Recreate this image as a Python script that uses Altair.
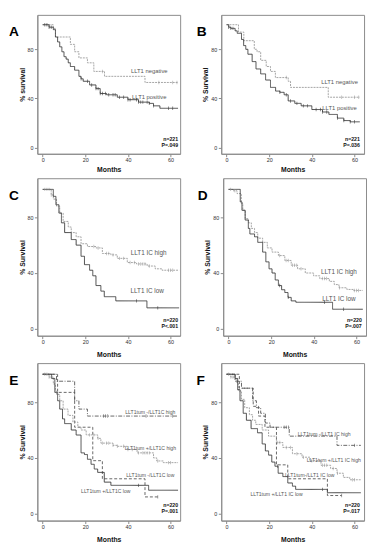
import altair as alt
import pandas as pd

# ---------------- data ----------------
# Panel A
A_neg_t = [0, 5, 6, 13, 15, 17, 21, 24, 29, 48]
A_neg_s = [100, 97, 90, 84, 78, 73, 69, 62, 58, 53]
A_neg_c = [28, 54.5, 61, 63]
A_pos_t = [0, 3, 5, 6, 7, 8, 9, 10, 11, 12, 13, 15, 17, 18, 19, 22, 25, 27, 30, 35, 40, 45, 50, 52, 55]
A_pos_s = [100, 98, 96, 90, 86, 82, 78, 74, 72, 69, 66, 63, 58, 56, 54, 51, 48, 44, 43, 41, 39, 37, 36, 34, 32]
A_pos_c = [1, 2, 3, 4, 18, 21, 23, 25, 26, 27, 28, 29.5, 31, 33, 34, 36, 38, 40, 41, 44, 45, 46, 47, 49, 50, 52, 59, 61]

# Panel B
B_neg_t = [0, 5.6, 8.1, 13, 14.3, 16, 18.6, 20.6, 22.9, 28.9, 30, 47.7]
B_neg_s = [100, 94, 87, 80, 78, 71, 66, 62, 57, 54, 49, 41]
B_neg_c = [28, 54, 60, 62]
B_pos_t = [0, 1, 2, 4, 5, 7, 8, 9, 10, 12, 13.8, 16, 18.3, 20.6, 23, 25, 27, 28.9, 32, 35, 40, 45, 48, 52, 55, 58]
B_pos_s = [100, 98, 97, 95, 93, 88, 83, 80, 76, 70, 64, 60, 55, 49, 46, 45, 43, 38, 36, 34, 31, 29, 27, 24, 22, 21]
B_pos_c = [1, 2, 3, 25, 28, 30, 33, 36, 38, 42, 44, 45, 47, 52, 55, 58, 60]

# Panel C
C_high_t = [0, 4, 5, 6.5, 8, 9.6, 12, 13.4, 15.7, 18, 21, 25, 28, 32, 35, 39.7, 44, 49, 52.8, 56]
C_high_s = [100, 96, 93, 88, 83, 77, 73, 69, 66, 61, 59, 58, 54, 53, 50.5, 47.5, 46.5, 45, 43, 42]
C_high_c = [1, 2, 3, 4, 24, 26, 30, 31, 33, 36, 38, 41, 43, 45, 46, 47, 48, 50, 59, 60, 61]
C_low_t = [0, 5, 6.2, 7.6, 8.8, 10.3, 13.4, 15.7, 18, 19.6, 22, 23.5, 25, 27.3, 28.9, 34.3, 48.9]
C_low_s = [100, 95, 89, 83, 76, 69, 64, 60, 52, 46, 42, 38, 31, 27, 23, 20, 15]
C_low_c = [44, 54]

# Panel D
D_high_t = [0, 2, 4, 6, 6.7, 7.8, 9.3, 10.7, 12.2, 13.7, 16, 18.2, 20.4, 23.4, 26.4, 29.4, 32.4, 36, 39.9, 42.8, 47.3, 49.6, 51.8, 55.5, 58.5]
D_high_s = [100, 99, 97, 90, 85, 79, 76, 72, 69, 65, 62, 58, 55, 52.5, 49, 45.6, 43, 40, 38, 36, 34, 31.7, 29.4, 28.2, 27.5]
D_high_c = [1, 3, 24, 27, 28, 30, 31, 32, 34, 44, 45, 46, 52, 59, 60, 61]
D_low_t = [0, 5.5, 6.3, 7.8, 9.3, 10, 12.2, 13.7, 16, 17.5, 19, 20.4, 21.9, 23.4, 24.9, 26.4, 27.9, 29.4, 31.6, 48.8]
D_low_s = [100, 91, 85, 78, 72, 68, 66, 62, 55, 48, 43, 40, 35, 31, 28, 26, 22.5, 20, 19, 14]
D_low_c = [24, 28, 45, 54]

# Panel E
E_mh_t = [0, 6.5, 15, 17, 21]
E_mh_s = [100, 95, 81, 75, 70]
E_mh_c = [28.5, 29.5, 30.5, 48.5, 61]
E_ml_t = [0, 7, 15, 23.5, 28, 48]
E_ml_s = [100, 87, 62, 38, 25, 12]
E_ml_c = [54]
E_ph_t = [0, 3, 5, 6, 6.5, 8, 9.6, 11.9, 14.2, 16.5, 18, 20.4, 25.8, 27.3, 33, 35, 39.7, 44.3, 52, 53.5, 56.6]
E_ph_s = [100, 98, 93, 88, 85.5, 81, 75, 70.5, 65.7, 62, 60, 56.5, 54, 50.6, 49, 48.3, 46, 43.6, 40, 37.8, 36.6]
E_ph_c = [1, 2, 3, 4, 22, 24, 26, 28, 30, 31, 33, 35, 38, 40, 42, 45, 47, 48, 49, 50, 54, 59, 60]
E_pl_t = [0, 4.2, 5.7, 7, 8, 9.3, 10.3, 13.4, 15.7, 18, 19.6, 21, 22.7, 24.2, 25.8, 28.9, 32, 49.7]
E_pl_s = [100, 97, 87, 81, 75, 68, 64.6, 60, 56.4, 43.6, 42.4, 39, 35.4, 32, 29.6, 22.6, 20.3, 16.8]
E_pl_c = [45]

# Panel F
F_mh_t = [0, 4, 7, 12.2, 14, 16, 18.2, 20.4, 29.4, 51.8]
F_mh_s = [100, 95, 90, 81, 76, 72, 65, 62, 55.6, 49]
F_mh_c = [27, 28, 29, 60]
F_ml_t = [0, 6, 12.5, 15, 18, 23.4, 28.7, 47.3]
F_ml_s = [100, 90, 77, 70, 62, 35, 25, 13]
F_ml_c = [54]
F_ph_t = [0, 2, 4, 4.8, 5.5, 7, 8.5, 10.7, 12.2, 13.7, 16.7, 19.7, 23.4, 26.4, 30.9, 35.4, 39.1, 44.3, 48.8, 51.8, 54.8, 57.8]
F_ph_s = [100, 98, 96, 94, 88, 82, 76, 71, 67, 64, 60, 55.6, 51, 47.5, 43, 40.5, 38, 34.7, 32.4, 29, 26, 24.3]
F_ph_c = [1, 2, 3, 24, 25, 28, 30, 33, 36, 40, 45, 46, 47, 50, 52, 59, 60]
F_pl_t = [0, 4, 5.2, 6.3, 7.8, 9.3, 11.5, 14.5, 16.7, 18.2, 19.7, 21.2, 22.7, 24.2, 26.4, 28.7, 30.9, 32.4, 47.3]
F_pl_s = [100, 97, 89, 81, 72, 67, 61, 58, 50, 45, 42, 37, 34, 29, 26.6, 22, 19.7, 17.4, 15]
F_pl_c = [24, 45]

x_ticks = [0, 10, 20, 30, 40, 50, 60]
y_ticks = [0, 20, 40, 60, 80, 100]

STYLE_DOMAIN = ["dark", "light", "dashdot", "dashed"]
STYLE_COLORS = ["#333333", "#9a9a9a", "#555555", "#555555"]
STYLE_DASH = [[1, 0], [2, 1], [4, 1.5, 1, 1.5], [3, 2]]

FONT = "Liberation Sans"
W = 146


def make_panel(letter, letter_dx, curves, labels, label_size, np_lines, ytitle, height, ttl_pad):
    line_rows, cens_rows = [], []
    for name, style, t, s, end, cens in curves:
        for ti, si in zip(t, s):
            line_rows.append(dict(curve=name, style=style, t=ti, s=si))
        line_rows.append(dict(curve=name, style=style, t=end, s=s[-1]))
        for c in cens:
            idx = max(i for i, ti in enumerate(t) if ti <= c)
            cens_rows.append(dict(curve=name, style=style, t=c, s=s[idx]))
    ldf = pd.DataFrame(line_rows)
    cdf = pd.DataFrame(cens_rows)
    tdf = pd.DataFrame(labels, columns=["label", "t", "s"])
    ndf = pd.DataFrame(np_lines, columns=["label", "t", "s"])

    xs = alt.Scale(domain=[-2.5, 64.5], nice=False, zero=False)
    ys = alt.Scale(domain=[-5, 108], nice=False, zero=False)
    xax = alt.Axis(values=x_ticks, title="Months", titlePadding=ttl_pad)
    yax = alt.Axis(values=y_ticks, title=ytitle)
    cscale = alt.Scale(domain=STYLE_DOMAIN, range=STYLE_COLORS)
    dscale = alt.Scale(domain=STYLE_DOMAIN, range=STYLE_DASH)

    lines = alt.Chart(ldf).mark_line(interpolate="step-after", strokeWidth=0.9).encode(
        x=alt.X("t:Q", scale=xs, axis=xax),
        y=alt.Y("s:Q", scale=ys, axis=yax),
        color=alt.Color("style:N", scale=cscale, legend=None),
        strokeDash=alt.StrokeDash("style:N", scale=dscale, legend=None),
        detail="curve:N",
    )
    ticks = alt.Chart(cdf).mark_tick(orient="vertical", size=3.5, thickness=0.8).encode(
        x=alt.X("t:Q", scale=xs),
        y=alt.Y("s:Q", scale=ys),
        color=alt.Color("style:N", scale=cscale, legend=None),
    )
    texts = alt.Chart(tdf).mark_text(fontSize=label_size, color="#555555", font=FONT).encode(
        x=alt.X("t:Q", scale=xs), y=alt.Y("s:Q", scale=ys), text="label:N"
    )
    np_txt = alt.Chart(ndf).mark_text(fontSize=5.3, fontWeight="bold", color="#111111",
                                      align="right", font=FONT).encode(
        x=alt.X("t:Q", scale=xs), y=alt.Y("s:Q", scale=ys), text="label:N"
    )
    let = alt.Chart(pd.DataFrame({"letter": [letter]})).mark_text(
        fontSize=14, fontWeight="bold", color="#000000", font=FONT
    ).encode(x=alt.value(letter_dx), y=alt.value(18), text="letter:N")

    return alt.layer(lines, ticks, texts, np_txt, let).properties(width=W, height=height)


H1, H2 = 142, 161

pA = make_panel("A", -24, [
    ("neg", "light", A_neg_t, A_neg_s, 63.5, A_neg_c),
    ("pos", "dark", A_pos_t, A_pos_s, 63.5, A_pos_c),
], [("LLT1 negative", 50, 62), ("LLT1 positive", 50, 41)], 6,
    [("n=221", 63.5, 7), ("P=.049", 63.5, 2)], "% survival", H1, 3)

pB = make_panel("B", -20, [
    ("neg", "light", B_neg_t, B_neg_s, 62.5, B_neg_c),
    ("pos", "dark", B_pos_t, B_pos_s, 62.5, B_pos_c),
], [("LLT1 negative", 53, 53), ("LLT1 positive", 53, 32)], 6,
    [("n=221", 62.5, 7), ("P=.036", 62.5, 2)], "% Survival", H1, 3)

pC = make_panel("C", -24, [
    ("high", "light", C_high_t, C_high_s, 64, C_high_c),
    ("low", "dark", C_low_t, C_low_s, 64, C_low_c),
], [("LLT1 IC high", 49.7, 54.4), ("LLT1 IC low", 49, 27)], 6.5,
    [("n=220", 63.5, 6.5), ("P<.001", 63.5, 2)], "% Survival", H2, 6)

pD = make_panel("D", -21, [
    ("high", "light", D_high_t, D_high_s, 63, D_high_c),
    ("low", "dark", D_low_t, D_low_s, 63, D_low_c),
], [("LLT1 IC high", 51.8, 41), ("LLT1 IC low", 51.8, 21)], 6.5,
    [("n=220", 62.5, 6.5), ("P=.007", 62.5, 2)], "% Survival", H2, 6)

pE = make_panel("E", -24, [
    ("mh", "dashdot", E_mh_t, E_mh_s, 63.5, E_mh_c),
    ("ml", "dashed", E_ml_t, E_ml_s, 54, E_ml_c),
    ("ph", "light", E_ph_t, E_ph_s, 63.5, E_ph_c),
    ("pl", "dark", E_pl_t, E_pl_s, 63.5, E_pl_c),
], [("LLT1tum -/LLT1C high", 50.5, 73), ("LLT1tum +/LLT1C high", 50.5, 47),
    ("LLT1tum -/LLT1C low", 50.5, 28), ("LLT1tum +/LLT1C low", 29.6, 16)], 5.2,
    [("n=220", 63.5, 6.5), ("P=.001", 63.5, 2)], "% Survival", H2, 6)

pF = make_panel("F", -21, [
    ("mh", "dashdot", F_mh_t, F_mh_s, 63, F_mh_c),
    ("ml", "dashed", F_ml_t, F_ml_s, 54, F_ml_c),
    ("ph", "light", F_ph_t, F_ph_s, 63, F_ph_c),
    ("pl", "dark", F_pl_t, F_pl_s, 63, F_pl_c),
], [("LLT1tum -/LLT1 IC high", 45.8, 57.4), ("LLT1tum +/LLT1 IC high", 50.3, 38.2),
    ("LLT1tum-/LLT1 IC low", 39, 27.8), ("LLT1tum +/LLT1 IC low", 23.4, 14.4)], 5.2,
    [("n=220", 62.5, 6.5), ("P=.017", 62.5, 2)], "% Survival", H2, 6)

chart = alt.vconcat(
    alt.hconcat(pA, pB, spacing=15),
    alt.hconcat(pC, pD, spacing=15),
    alt.hconcat(pE, pF, spacing=15),
    spacing=4,
).properties(
    padding={"left": 0, "top": 0, "right": 0, "bottom": 0}
).configure(font=FONT).configure_view(
    stroke="#8a8a8a", strokeWidth=1
).configure_axis(
    grid=False, domainColor="#8a8a8a", tickColor="#8a8a8a", tickSize=3,
    labelFontSize=5.5, labelColor="#333333", labelPadding=1,
    titleFontSize=7, titleFontWeight="bold", titleColor="#111111", labelFont=FONT, titleFont=FONT,
).configure_axisY(titlePadding=2, labelPadding=1.5)

chart.save("out.html", embed_options={"renderer": "svg", "actions": False})
